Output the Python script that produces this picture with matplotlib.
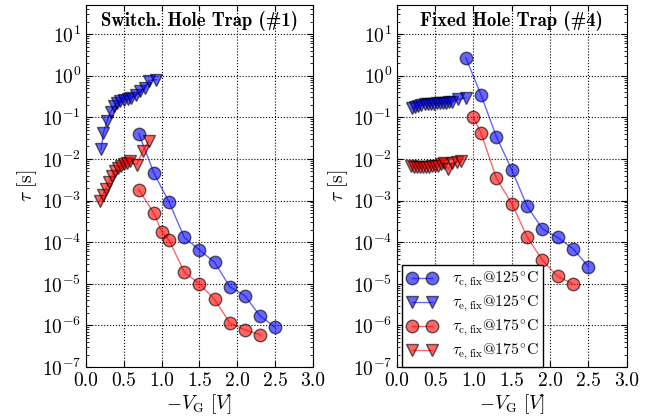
import numpy as np
import matplotlib
matplotlib.use('Agg')
import matplotlib.pyplot as plt

plt.rcParams['font.family'] = 'serif'
plt.rcParams['font.serif'] = ['cmr10']
plt.rcParams['mathtext.fontset'] = 'cm'
plt.rcParams['axes.formatter.use_mathtext'] = True
plt.rcParams['font.size'] = 14

# Switch. hole trap (#1)
x_c125_1 = [0.7, 0.9, 1.1, 1.3, 1.5, 1.7, 1.9, 2.1, 2.3, 2.5]
tau_c125_1 = [4.0e-2, 4.5e-3, 9.0e-4, 1.3e-4, 6.5e-5, 3.3e-5, 8.5e-6, 5.2e-6, 1.7e-6, 9.0e-7]
x_e125_1 = [0.2, 0.23, 0.28, 0.33, 0.37, 0.41, 0.45, 0.5, 0.55, 0.6, 0.66, 0.72, 0.78, 0.83, 0.93]
tau_e125_1 = [1.7e-2, 4.3e-2, 8.3e-2, 0.138, 0.19, 0.224, 0.245, 0.263, 0.275, 0.295, 0.34, 0.42, 0.52, 0.76, 0.8]
x_c175_1 = [0.7, 0.9, 1.0, 1.1, 1.3, 1.5, 1.7, 1.9, 2.1, 2.3]
tau_c175_1 = [1.8e-3, 4.9e-4, 1.8e-4, 1.1e-4, 1.9e-5, 1.0e-5, 4.2e-6, 1.15e-6, 7.8e-7, 6.0e-7]
x_e175_1 = [0.18, 0.22, 0.26, 0.3, 0.34, 0.38, 0.42, 0.46, 0.5, 0.54, 0.58, 0.67, 0.75, 0.83]
tau_e175_1 = [1.0e-3, 1.35e-3, 1.9e-3, 2.75e-3, 3.8e-3, 5.0e-3, 6.0e-3, 6.9e-3, 7.6e-3, 8.1e-3, 8.7e-3, 7.2e-3, 1.55e-2, 2.7e-2]

# Fixed hole trap (#4)
x_c125_4 = [0.9, 1.1, 1.3, 1.5, 1.7, 1.9, 2.1, 2.3, 2.5]
tau_c125_4 = [2.7, 0.34, 3.4e-2, 5.5e-3, 7.4e-4, 2.1e-4, 1.3e-4, 7.0e-5, 2.6e-5]
x_e125_4 = [0.2, 0.24, 0.28, 0.32, 0.36, 0.4, 0.44, 0.48, 0.52, 0.56, 0.6, 0.64, 0.68, 0.72, 0.8, 0.9]
tau_e125_4 = [0.166, 0.182, 0.19, 0.2, 0.204, 0.209, 0.214, 0.214, 0.219, 0.219, 0.219, 0.219, 0.229, 0.24, 0.27, 0.295]
x_c175_4 = [1.0, 1.1, 1.3, 1.5, 1.7, 1.9, 2.1, 2.3]
tau_c175_4 = [0.1, 4.1e-2, 3.4e-3, 8.5e-4, 1.35e-4, 3.7e-5, 1.5e-5, 1.0e-5]
x_e175_4 = [0.18, 0.22, 0.26, 0.3, 0.34, 0.38, 0.42, 0.46, 0.5, 0.54, 0.58, 0.62, 0.67, 0.72, 0.78, 0.84]
tau_e175_4 = [6.8e-3, 6.5e-3, 6.3e-3, 6.3e-3, 6.3e-3, 6.5e-3, 6.5e-3, 6.6e-3, 6.8e-3, 6.9e-3, 7.4e-3, 7.9e-3, 5.6e-3, 7.9e-3, 8.3e-3, 8.9e-3]

titles = ['Switch. Hole Trap (#1)', 'Fixed Hole Trap (#4)']
labels = [r'$\tau_{\mathrm{c,fix}}$@125$^{\circ}$C', r'$\tau_{\mathrm{e,fix}}$@125$^{\circ}$C',
          r'$\tau_{\mathrm{c,fix}}$@175$^{\circ}$C', r'$\tau_{\mathrm{e,fix}}$@175$^{\circ}$C']
xticks = [0.0, 0.5, 1.0, 1.5, 2.0, 2.5, 3.0]

panels = [
    [(x_c125_1, tau_c125_1), (x_e125_1, tau_e125_1), (x_c175_1, tau_c175_1), (x_e175_1, tau_e175_1)],
    [(x_c125_4, tau_c125_4), (x_e125_4, tau_e125_4), (x_c175_4, tau_c175_4), (x_e175_4, tau_e175_4)],
]
styles = [('b', 'o'), ('b', 'v'), ('r', 'o'), ('r', 'v')]

fig = plt.figure(figsize=(6.54, 4.19), dpi=100)
ax1 = fig.add_axes([0.1315, 0.124, 0.347, 0.864])
ax2 = fig.add_axes([0.607, 0.124, 0.351, 0.864])

for ax, data, title in zip([ax1, ax2], panels, titles):
    for (x, y), (c, m), lab in zip(data, styles, labels):
        ax.plot(x, y, marker=m, color=c, mec='k', ms=9, lw=1, alpha=0.6, label=lab)
    ax.set_yscale('log')
    ax.set_ylim(1e-7, 50)
    ax.set_xlim(0, 3)
    ax.set_xticks(xticks)
    ax.set_xticklabels(['%.1f' % v for v in xticks])
    ax.grid(True, which='major', color='k', linestyle=':', linewidth=0.8)
    ax.tick_params(which='both', direction='in', top=True, right=True)
    ax.tick_params(which='major', length=4)
    ax.tick_params(which='minor', length=2)
    ax.set_xlabel(r'$-V_{\mathrm{G}}\ [V]$', labelpad=2)
    ax.set_ylabel(r'$\tau\ [\mathrm{s}]$', labelpad=2)
    ax.text(0.5, 0.955, title, transform=ax.transAxes, ha='center', va='center',
            family='cmb10', fontsize=13.5)

leg = ax2.legend(loc='lower left', bbox_to_anchor=(0.022, 0.0), numpoints=2, fancybox=False,
                 fontsize=11.5, borderaxespad=0.0, borderpad=0.3, handlelength=1.9,
                 handletextpad=0.9, labelspacing=0.25, framealpha=1.0)
leg.get_frame().set_edgecolor('k')

fig.savefig('out.png', dpi=100)
